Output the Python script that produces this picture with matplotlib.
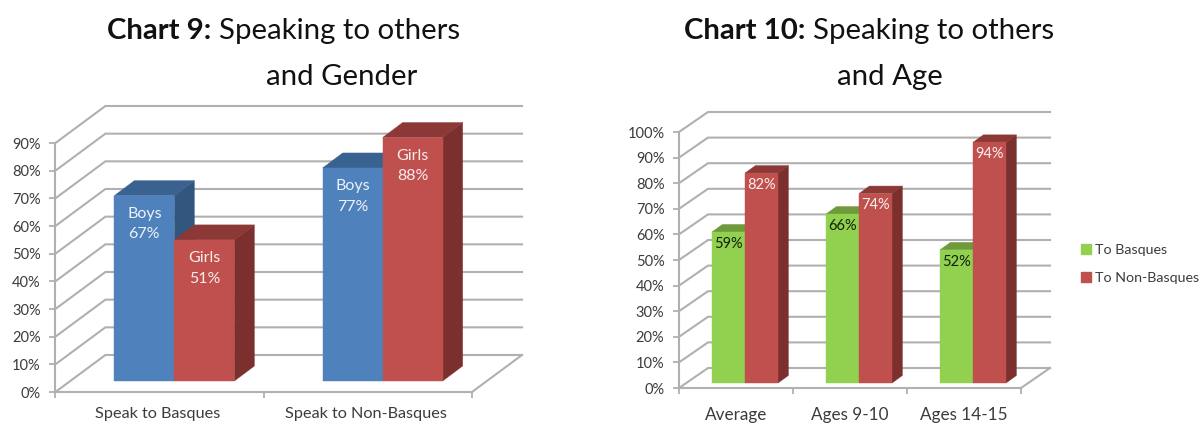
import matplotlib
matplotlib.use("Agg")
import matplotlib.pyplot as plt
from matplotlib.patches import Patch, Polygon

plt.rcParams['font.family'] = ['Lato', 'DejaVu Sans']

# data chart 9
gender_cats = ['Speak to Basques', 'Speak to Non-Basques']
boys = [67, 77]
girls = [51, 88]
gender_ticks = list(range(0, 100, 10))

# data chart 10
age_cats = ['Average', 'Ages 9-10', 'Ages 14-15']
to_basques = [59, 66, 52]
to_non_basques = [82, 74, 94]
age_ticks = list(range(0, 110, 10))

W, H = 1203, 423
GRID = '#b0b0b0'
TXT = '#3c3c3c'
BLUE = ('#4f81bd', '#3a6290', '#33567e')
RED = ('#c0504d', '#8c3836', '#7c302e')
GREEN = ('#92d050', '#6f9a3c', '#5f8a30')

fig = plt.figure(figsize=(W / 100, H / 100), dpi=100)


def make_axes(left, right, top, bottom):
    return fig.add_axes([left / W, 1 - bottom / H, (right - left) / W, (bottom - top) / H])


def frame(ax, ncat, ticks, dx, dy):
    ax.set_xlim(0, ncat)
    ax.set_ylim(0, ticks[-1])
    ax.patch.set_visible(False)
    for s in ['top', 'right']:
        ax.spines[s].set_visible(False)
    for s in ['left', 'bottom']:
        ax.spines[s].set_color(GRID)
        ax.spines[s].set_linewidth(1.5)
    ax.set_yticks(ticks)
    ax.set_yticklabels(['%d%%' % t for t in ticks], fontsize=10.5, color=TXT)
    ax.set_xticks(range(ncat + 1))
    ax.set_xticklabels([''] * (ncat + 1))
    ax.tick_params(axis='both', color=GRID, width=1.3, length=4, pad=6.5)
    # side wall and back wall lines
    for t in ticks:
        ax.plot([0, dx, ncat + dx], [t, t + dy, t + dy], color=GRID, lw=1.5,
                clip_on=False, zorder=1, solid_joinstyle='miter')
    ax.plot([ncat, ncat + dx], [0, dy], color=GRID, lw=1.5, clip_on=False, zorder=1)


def bar3d(ax, x0, w, val, base, dx, dy, cols):
    # front, top, side faces
    x1 = x0 + w
    y0 = base
    y1 = base + val
    front = [(x0, y0), (x1, y0), (x1, y1), (x0, y1)]
    top = [(x0, y1), (x1, y1), (x1 + dx, y1 + dy), (x0 + dx, y1 + dy)]
    side = [(x1, y0), (x1 + dx, y0 + dy), (x1 + dx, y1 + dy), (x1, y1)]
    for pts, c in [(side, cols[2]), (top, cols[1]), (front, cols[0])]:
        ax.add_patch(Polygon(pts, closed=True, facecolor=c, edgecolor=c, lw=0.3,
                             clip_on=False, zorder=3))


def cat_labels(ax, cats, shift, off, size):
    for i, c in enumerate(cats):
        ax.annotate(c, (i + 0.5 + shift, 0), xytext=(0, off), textcoords='offset points',
                    ha='center', va='top', fontsize=size, color=TXT, annotation_clip=False)


def bar_label(ax, txt, x, y, col, size, off):
    ax.annotate(txt, (x, y), xytext=(0, off), textcoords='offset points', ha='center', va='top',
                color=col, fontsize=size, linespacing=1.6, zorder=5, annotation_clip=False)


def title(x_split, y, bold, rest):
    fig.text(x_split / W, 1 - y / H, bold, ha='right', va='center', fontsize=21.2,
             fontweight='bold', color='#111111')
    fig.text((x_split + 8) / W, 1 - y / H, rest, ha='left', va='center', fontsize=21.2,
             color='#111111')


# Chart 9
ax1 = make_axes(55.4, 472, 143, 392)
unit = 416.6 / 2
pct = 249 / 90
wall_dx, wall_dy = 50 / unit, 37 / pct
frame(ax1, 2, gender_ticks, wall_dx, wall_dy)
base1 = 11 / pct
shift1 = 14.8 / unit
bw1 = 60 / unit
for i in range(2):
    c = i + 0.5 + shift1
    bar3d(ax1, c - bw1, bw1, boys[i], base1, 20 / unit, 15 / pct, BLUE)
    bar3d(ax1, c, bw1, girls[i], base1, 20 / unit, 15 / pct, RED)
    bar_label(ax1, 'Boys\n%d%%' % boys[i], c - bw1 / 2, boys[i] + base1, '#eef2f8', 11.5, -8)
    bar_label(ax1, 'Girls\n%d%%' % girls[i], c + bw1 / 2, girls[i] + base1, '#f8ecec', 11.5, -8)
cat_labels(ax1, gender_cats, -0.01, -11, 11.7)

# Chart 10
ax2 = make_axes(679, 1021, 132, 388)
unit = 342 / 3
pct = 256 / 100
wall_dx, wall_dy = 29 / unit, 20 / pct
frame(ax2, 3, age_ticks, wall_dx, wall_dy)
base2 = 5 / pct
shift2 = 9 / unit
bw2 = 33 / unit
for i in range(3):
    c = i + 0.5 + shift2
    bar3d(ax2, c - bw2, bw2, to_basques[i], base2, 10.4 / unit, 7.5 / pct, GREEN)
    bar3d(ax2, c, bw2, to_non_basques[i], base2, 10.4 / unit, 7.5 / pct, RED)
    bar_label(ax2, '%d%%' % to_basques[i], c - bw2 / 2, to_basques[i] + base2, '#10200a', 10.5, -3.5)
    bar_label(ax2, '%d%%' % to_non_basques[i], c + bw2 / 2, to_non_basques[i] + base2, '#fbf0f0', 10.5, -3.5)
cat_labels(ax2, age_cats, 0, -14, 12.3)

title(211, 31, 'Chart 9:', 'Speaking to others')
fig.text(342 / W, 1 - 77 / H, 'and Gender', ha='center', va='center', fontsize=21.2, color='#111111')
title(805, 31, 'Chart 10:', 'Speaking to others')
fig.text(890 / W, 1 - 77 / H, 'and Age', ha='center', va='center', fontsize=21.2, color='#111111')

handles = [Patch(color=GREEN[0], label='To Basques'), Patch(color=RED[0], label='To Non-Basques')]
fig.legend(handles=handles, loc='center left', bbox_to_anchor=(1081 / W, 1 - 264 / H),
           frameon=False, fontsize=10.3, labelcolor=TXT, handlelength=0.7, handleheight=0.7,
           handletextpad=0.3, labelspacing=1.1, borderpad=0, borderaxespad=0)

fig.savefig('out.png', dpi=100)
